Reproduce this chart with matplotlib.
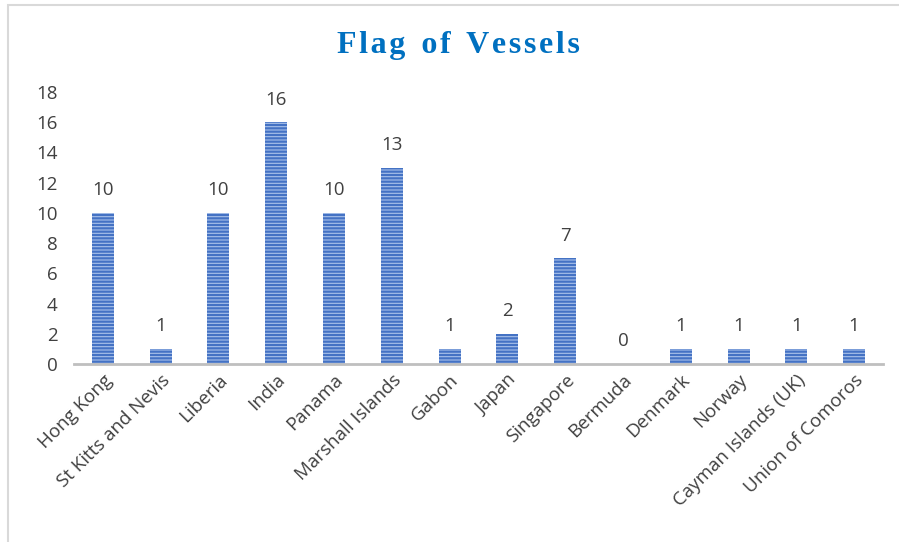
import matplotlib.pyplot as plt
from matplotlib.patches import Rectangle

countries = ["Hong Kong", "St Kitts and Nevis", "Liberia", "India", "Panama",
             "Marshall Islands", "Gabon", "Japan", "Singapore", "Bermuda",
             "Denmark", "Norway", "Cayman Islands (UK)", "Union of Comoros"]
vessels = [10, 1, 10, 16, 10, 13, 1, 2, 7, 0, 1, 1, 1, 1]
yticks = [0, 2, 4, 6, 8, 10, 12, 14, 16, 18]

plt.rcParams['font.family'] = ['Open Sans', 'DejaVu Sans']
plt.rcParams['hatch.linewidth'] = 1.6

fig = plt.figure(figsize=(8.99, 5.42), dpi=100)
# chart border (top and left edge visible)
fig.patches.append(Rectangle((8/899, -0.1), 1.1, (542-5)/542 + 0.1, transform=fig.transFigure,
                             fill=False, edgecolor='#d9d9d9', linewidth=1.5))

ax = fig.add_axes([74/899, 178/542, 809/899, 272/542])
x = range(len(countries))
bars = ax.bar(x, vessels, width=0.38, color='#a9c1ea', edgecolor='#4472c4',
              linewidth=0, hatch='-----')
for xi, v in zip(x, vessels):
    ax.text(xi, v + 0.9, str(v), ha='center', va='bottom', fontsize=13.5, color='#404040')

ax.set_xlim(-0.5, len(countries) - 0.5)
ax.set_ylim(0, 18)
ax.set_yticks(yticks)
ax.tick_params(axis='y', length=0, labelsize=13.5, labelcolor='#404040', pad=12)
ax.set_xticks(list(x))
ax.set_xticklabels(countries, rotation=45, ha='right', rotation_mode='anchor',
                   fontsize=13.5, color='#404040')
ax.tick_params(axis='x', length=0, pad=5)
for s in ['top', 'right', 'left']:
    ax.spines[s].set_visible(False)
ax.spines['bottom'].set_color('#bfbfbf')
ax.spines['bottom'].set_linewidth(2)

title = "  ".join("\u200a".join(w) for w in "Flag of Vessels".split())
fig.text(458/899, 1 - 45/542, title, ha='center', va='center',
         fontsize=23, fontweight='bold', family='Liberation Serif', color='#0070c0')

plt.savefig("out.png")
